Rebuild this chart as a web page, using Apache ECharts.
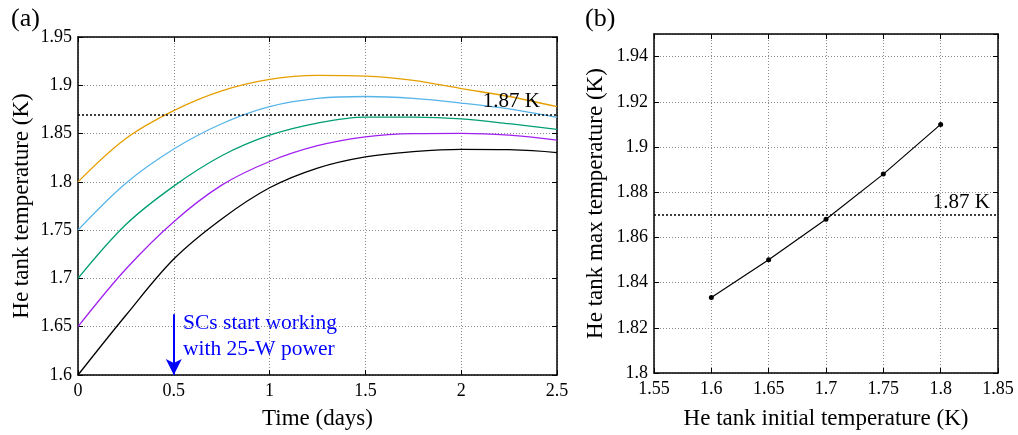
<!DOCTYPE html>
<html>
<head>
<meta charset="utf-8">
<script src="https://cdn.jsdelivr.net/npm/echarts@6/dist/echarts.min.js"></script>
<style>
  html, body { margin: 0; padding: 0; background: #fff; }
  #main { width: 1018px; height: 435px; }
</style>
</head>
<body>
<div id="main"></div>
<script>
// 数据 (a): 时间 (days) 与各初始温度下的 He tank 温度
var timeDays = [0, 0.25, 0.5, 0.75, 1, 1.25, 1.5, 1.75, 2, 2.25, 2.5];
var temp180 = [1.800, 1.8449, 1.8738, 1.8942, 1.9061, 1.9102, 1.9095, 1.9051, 1.8966, 1.8884, 1.8779];
var temp175 = [1.750, 1.7986, 1.834, 1.8602, 1.8779, 1.8864, 1.8884, 1.8864, 1.8816, 1.8755, 1.8667];
var temp170 = [1.700, 1.7558, 1.7956, 1.827, 1.8483, 1.8609, 1.867, 1.867, 1.8653, 1.8602, 1.8544];
var temp165 = [1.650, 1.7097, 1.7588, 1.7966, 1.8211, 1.8374, 1.8466, 1.850, 1.8503, 1.8483, 1.8432];
var temp160 = [1.600, 1.6619, 1.7201, 1.7616, 1.7939, 1.8143, 1.8259, 1.8313, 1.8337, 1.8333, 1.8303];

// 数据 (b): 初始温度 与 最高温度
var initTemp = [1.6, 1.65, 1.7, 1.75, 1.8];
var maxTemp = [1.8334, 1.8501, 1.868, 1.888, 1.910];

// 阈值线 与 箭头
var limitTemp = 1.87;
var arrowX = 0.5;
var arrowTop = 1.663;
var arrowBottom = 1.6;

var serifFont = '"Liberation Serif", "DejaVu Serif", serif';
var curveColors = ['#E69F00', '#56B4E9', '#009E73', '#A020F0', '#000000'];
var curveData = [temp180, temp175, temp170, temp165, temp160];

function pairs(xs, ys) {
    var out = [];
    for (var i = 0; i < xs.length; i++) {
        out.push([xs[i], ys[i]]);
    }
    return out;
}

//坐标轴通用样式
function makeAxis(opt) {
    var base = {
        type: 'value',
        axisLine: { show: true, onZero: false, lineStyle: { color: '#000', width: 1.5 } },
        axisTick: { show: true, inside: true, length: 5, lineStyle: { color: '#000', width: 1 } },
        axisLabel: { color: '#000', fontFamily: serifFont, fontSize: 18 },
        splitLine: { show: false },
        nameTextStyle: { color: '#000', fontFamily: serifFont, fontSize: 23 }
    };
    return Object.assign(base, opt);
}

var gridLine = { show: true, lineStyle: { color: '#8a8a8a', type: [1, 2], width: 1 } };

var limitMarkLine = function (xMin, xMax, dist) {
    return {
        silent: true,
        symbol: ['none', 'none'],
        lineStyle: { color: '#000', type: [2, 2], width: 1.5 },
        label: {
            show: true,
            position: 'insideEndTop',
            formatter: limitTemp.toFixed(2) + ' K',
            color: '#000',
            fontFamily: serifFont,
            fontSize: 21,
            distance: dist
        },
        data: [[{ coord: [xMin, limitTemp] }, { coord: [xMax, limitTemp] }]]
    };
};

var series = [];
for (var i = 0; i < curveData.length; i++) {
    series.push({
        type: 'line',
        xAxisIndex: 0,
        yAxisIndex: 0,
        data: pairs(timeDays, curveData[i]),
        smooth: 0.35,
        showSymbol: false,
        lineStyle: { color: curveColors[i], width: 1.3 },
        itemStyle: { color: curveColors[i] },
        z: 3
    });
}
// 阈值线 (a)
series[0].markLine = limitMarkLine(0, 2.5, [17, 2]);
// 箭头
series[4].markLine = {
    silent: true,
    symbol: ['none', 'arrow'],
    symbolSize: [12, 16],
    lineStyle: { color: '#0000FF', type: 'solid', width: 2 },
    label: { show: false },
    data: [[{ coord: [arrowX, arrowTop] }, { coord: [arrowX, arrowBottom] }]]
};

// (b)
series.push({
    type: 'line',
    xAxisIndex: 2,
    yAxisIndex: 2,
    data: pairs(initTemp, maxTemp),
    symbol: 'circle',
    symbolSize: 5,
    showSymbol: true,
    lineStyle: { color: '#000', width: 1.2 },
    itemStyle: { color: '#000' },
    markLine: limitMarkLine(1.55, 1.85, [8, 2]),
    z: 3
});

var option = {
    animation: false,
    backgroundColor: '#fff',
    grid: [
        { left: 78, top: 37, width: 479, height: 342 },
        { left: 654, top: 34, width: 344, height: 343 }
    ],
    xAxis: [
        makeAxis({ gridIndex: 0, min: 0, max: 2.5, interval: 0.5, position: 'bottom',
            name: 'Time (days)', nameLocation: 'middle', nameGap: 32,
            axisLabel: { color: '#000', fontFamily: serifFont, fontSize: 18, margin: 7 },
            splitLine: gridLine }),
        makeAxis({ gridIndex: 0, min: 0, max: 2.5, interval: 0.5, position: 'top',
            axisLabel: { show: false } }),
        makeAxis({ gridIndex: 1, min: 1.55, max: 1.85, interval: 0.05, position: 'bottom',
            name: 'He tank initial temperature (K)', nameLocation: 'middle', nameGap: 34,
            axisLabel: { color: '#000', fontFamily: serifFont, fontSize: 18, margin: 7 },
            splitLine: gridLine }),
        makeAxis({ gridIndex: 1, min: 1.55, max: 1.85, interval: 0.05, position: 'top',
            axisLabel: { show: false } })
    ],
    yAxis: [
        makeAxis({ gridIndex: 0, min: 1.6, max: 1.95, interval: 0.05, position: 'left',
            name: 'He tank temperature (K)', nameLocation: 'middle', nameGap: 45,
            axisLabel: { color: '#000', fontFamily: serifFont, fontSize: 18, margin: 6 },
            splitLine: gridLine }),
        makeAxis({ gridIndex: 0, min: 1.6, max: 1.95, interval: 0.05, position: 'right',
            axisLabel: { show: false } }),
        makeAxis({ gridIndex: 1, min: 1.8, max: 1.95, interval: 0.02, position: 'left',
            name: 'He tank max temperature (K)', nameLocation: 'middle', nameGap: 47,
            axisLabel: { color: '#000', fontFamily: serifFont, fontSize: 18, margin: 6, showMaxLabel: false },
            splitLine: gridLine }),
        makeAxis({ gridIndex: 1, min: 1.8, max: 1.95, interval: 0.02, position: 'right',
            axisLabel: { show: false } })
    ],
    graphic: [
        { type: 'text', left: 11, top: 6,
          style: { text: '(a)', fill: '#000', font: '26px ' + serifFont } },
        { type: 'text', left: 585, top: 6,
          style: { text: '(b)', fill: '#000', font: '26px ' + serifFont } },
        { type: 'text', left: 183, top: 310,
          style: { text: 'SCs start working\nwith 25-W power', fill: '#0000FF',
                   font: '21.5px ' + serifFont, lineHeight: 26 } }
    ],
    series: series
};

var myChart = echarts.init(document.getElementById('main'));
myChart.setOption(option, true);
</script>
</body>
</html>
